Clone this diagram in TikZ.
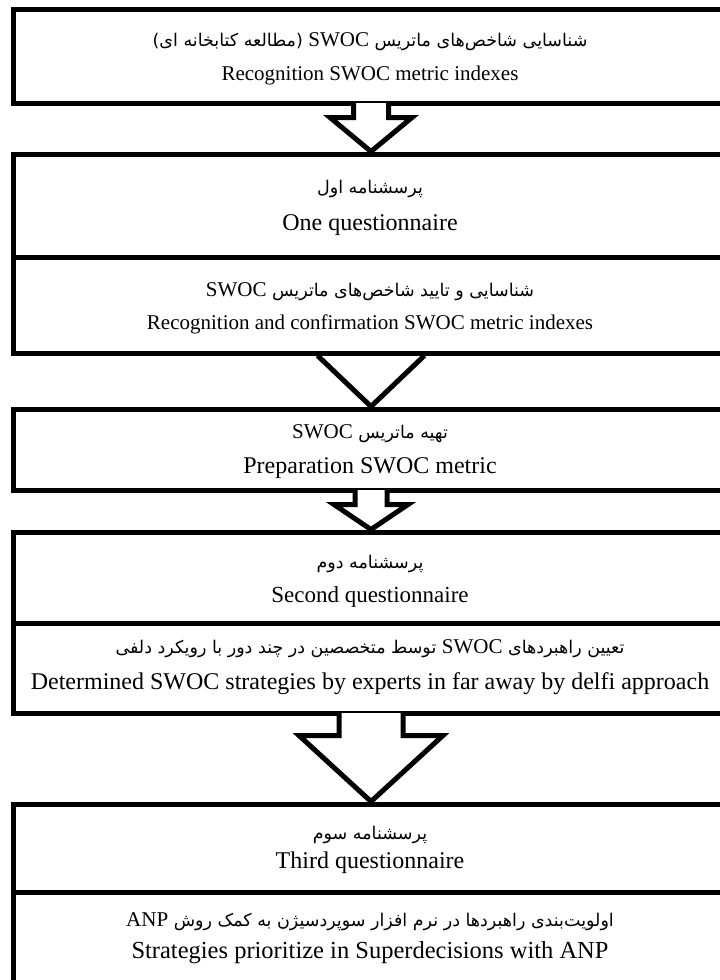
\documentclass[tikz,border=0pt]{standalone}
\usepackage{fontspec}
\setmainfont{Liberation Serif}
\newfontfamily\fa[Script=Arabic]{DejaVu Sans}
\TeXXeTstate=1
\usetikzlibrary{calc}
\newcommand{\swoc}[1]{\beginL{\rmfamily\fontsize{21}{24}\selectfont #1}\endL}
% from, to, shaft half width, head half width, head-top offset
\newcommand{\blockarr}[5]{%
  \fill[white] ($(#1)+(-#3,-2.6)$) rectangle ($(#1)+(#3,2.6)$);
  \draw[arrline] ($(#1)+(-#3,-2.5)$) -- ($(#1)+(-#3,#5)$) -- ($(#1)+(-#4,#5)$)
     -- (#2) -- ($(#1)+(#4,#5)$) -- ($(#1)+(#3,#5)$) -- ($(#1)+(#3,-2.5)$);
}
\begin{document}
\begin{tikzpicture}[x=1pt,y=-1pt,
  box/.style={draw=black, line width=5pt, rectangle, minimum width=716pt, inner sep=0pt},
  arrline/.style={draw=black, line width=5pt, line join=miter, miter limit=10},
  en/.style={anchor=base, inner sep=0pt, font=\fontsize{#1}{#1}\selectfont},
  pe/.style={anchor=base, inner sep=0pt, font=\fa\fontsize{17.5}{20}\selectfont}]
\useasboundingbox (0,0) rectangle (720,980);
\fill[white] (0,0) rectangle (720,980);
\clip (0,0) rectangle (720,980);
% boxes
\node[box, minimum height=94pt] (b1) at (371,56) {};
\node[box, minimum height=103pt] (b2a) at (371,205.5) {};
\node[box, minimum height=96pt] (b2b) at (371,305) {};
\node[box, minimum height=81pt] (b3) at (371,449.5) {};
\node[box, minimum height=91pt] (b4a) at (371,577.5) {};
\node[box, minimum height=90pt] (b4b) at (371,668) {};
\node[box, minimum height=88pt] (b5a) at (371,848) {};
\node[box, minimum height=94pt] (b5b) at (371,939) {};
% texts
\node[pe] (t1p) at (370,46) {\beginR شناسایی شاخص‌های ماتریس \swoc{SWOC} (مطالعه کتابخانه ای)\endR};
\node[en=21] (t1e) at (370,80) {Recognition SWOC metric indexes};
\node[pe] (t2p) at (370,193) {\beginR پرسشنامه اول\endR};
\node[en=24] (t2e) at (370,230) {One questionnaire};
\node[pe] (t3p) at (370,296) {\beginR شناسایی و تایید شاخص‌های ماتریس \swoc{SWOC}\endR};
\node[en=21] (t3e) at (370,329) {Recognition and confirmation SWOC metric indexes};
\node[pe] (t4p) at (370,438) {\beginR تهیه ماتریس \swoc{SWOC}\endR};
\node[en=24] (t4e) at (370,473) {Preparation SWOC metric};
\node[pe] (t5p) at (370,568) {\beginR پرسشنامه دوم\endR};
\node[en=23] (t5e) at (370,602) {Second questionnaire};
\node[pe] (t6p) at (370,653) {\beginR تعیین راهبردهای \swoc{SWOC} توسط متخصصین در چند دور با رویکرد دلفی\endR};
\node[en=24] (t6e) at (370,689) {Determined SWOC strategies by experts in far away by delfi approach};
\node[pe] (t7p) at (370,839) {\beginR پرسشنامه سوم\endR};
\node[en=24] (t7e) at (370,868) {Third questionnaire};
\node[pe] (t8p) at (370,926) {\beginR اولویت‌بندی راهبردها در نرم افزار سوپردسیژن به کمک روش \swoc{ANP}\endR};
\node[en=24.5] (t8e) at (370,958) {Strategies prioritize in Superdecisions with ANP};
% arrows
\blockarr{b1.south}{b2a.north}{17.5}{41}{12}
\draw[arrline] ($(b2b.south)+(-53.5,0)$) -- (b3.north) -- ($(b2b.south)+(53.5,0)$);
\blockarr{b3.south}{b4a.north}{16}{37}{12}
\blockarr{b4b.south}{b5a.north}{32}{72}{20}
\end{tikzpicture}
\end{document}
